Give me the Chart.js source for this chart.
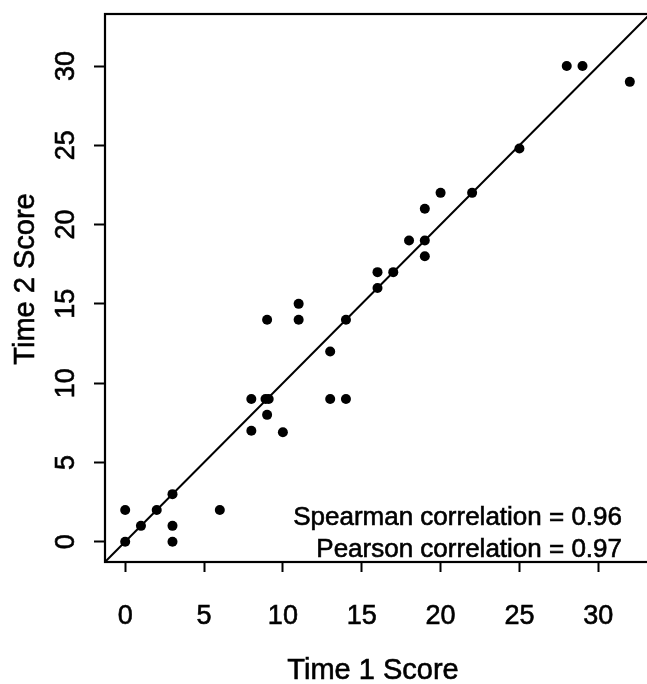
<!DOCTYPE html>
<html>
<head>
<meta charset="utf-8">
<script src="https://cdn.jsdelivr.net/npm/chart.js@4.4.1/dist/chart.umd.min.js"></script>
<style>
html,body{margin:0;padding:0;background:#fff;overflow:hidden;}
#wrap{width:647px;height:684px;overflow:hidden;position:relative;}
canvas{display:block;}
</style>
</head>
<body>
<div id="wrap"><canvas id="c" width="656" height="684"></canvas></div>
<script>
// Data
const time1 = [0, 0, 1, 2, 3, 3, 3, 6, 8, 8, 8.9, 9.1, 9, 9, 10, 11, 11, 13, 13, 14, 14, 16, 16, 17, 18, 19, 19, 19, 20, 22, 25, 28, 29, 32];
const time2 = [0, 2, 1, 2, 3, 1, 0, 2, 9, 7, 9, 9, 8, 14, 6.9, 15, 14, 12, 9, 9, 14, 17, 16, 17, 19, 21, 19, 18, 22, 22, 24.8, 30, 30, 29];
const xTicks = [0, 5, 10, 15, 20, 25, 30];
const yTicks = [0, 5, 10, 15, 20, 25, 30];
const axisMin = -1.28, axisMax = 33.28;
const xTitle = "Time 1 Score";
const yTitle = "Time 2 Score";
const notes = ["Spearman correlation = 0.96", "Pearson correlation = 0.97"];
const refLineSlope = 1, refLineIntercept = 0;

const FONT = "'Liberation Sans', Arial, Helvetica, sans-serif";
const points = time1.map((x, i) => ({x: x, y: time2[i]}));
const refLine = [axisMin, axisMax].map(x => ({x: x, y: refLineIntercept + refLineSlope * x}));

function drawText(ctx, t, x, y) {
  ctx.fillText(t, x, y);
  ctx.strokeText(t, x, y);
}

const textPlugin = {
  id: 'textPlugin',
  afterDraw(chart) {
    const ctx = chart.ctx;
    const a = chart.chartArea;
    const ys = chart.scales.y;
    ctx.save();
    // box
    ctx.strokeStyle = '#000';
    ctx.lineWidth = 2.2;
    ctx.strokeRect(a.left, a.top, a.right - a.left, a.bottom - a.top);
    ctx.fillStyle = '#000';
    ctx.lineWidth = 0.6;
    // y tick labels (rotated, parallel to axis)
    ctx.font = '27px ' + FONT;
    ctx.textAlign = 'center';
    ctx.textBaseline = 'alphabetic';
    yTicks.forEach(v => {
      const py = ys.getPixelForValue(v);
      ctx.save();
      ctx.translate(74, py);
      ctx.rotate(-Math.PI / 2);
      drawText(ctx, String(v), 0, 0);
      ctx.restore();
    });
    // axis titles
    ctx.font = '29px ' + FONT;
    drawText(ctx, xTitle, 373, 679);
    ctx.save();
    ctx.translate(34, 279);
    ctx.rotate(-Math.PI / 2);
    drawText(ctx, yTitle, 0, 0);
    ctx.restore();
    // annotations
    ctx.font = '26px ' + FONT;
    ctx.textAlign = 'right';
    drawText(ctx, notes[0], 622, 525);
    drawText(ctx, notes[1], 622, 557);
    ctx.restore();
  }
};

new Chart(document.getElementById('c'), {
  type: 'scatter',
  data: {
    datasets: [
      {
        type: 'line',
        data: refLine,
        borderColor: '#000',
        borderWidth: 2,
        pointRadius: 0,
        fill: false,
        tension: 0
      },
      {
        data: points,
        backgroundColor: '#000',
        borderWidth: 0,
        pointRadius: 5,
        pointHoverRadius: 5
      }
    ]
  },
  options: {
    responsive: false,
    animation: false,
    events: [],
    layout: {padding: {left: 0, top: 14, right: 6, bottom: 0}},
    plugins: {legend: {display: false}, tooltip: {enabled: false}},
    scales: {
      x: {
        type: 'linear',
        min: axisMin,
        max: axisMax,
        afterBuildTicks: s => { s.ticks = xTicks.map(v => ({value: v})); },
        afterFit: s => { s.height = 122; },
        grid: {drawOnChartArea: false, drawTicks: true, tickLength: 10, tickWidth: 2, color: '#000'},
        border: {display: true, color: '#000', width: 2},
        ticks: {color: '#000', font: {size: 27, family: FONT}, padding: 28, maxRotation: 0, autoSkip: false,
                textStrokeColor: '#000', textStrokeWidth: 0.6}
      },
      y: {
        type: 'linear',
        min: axisMin,
        max: axisMax,
        afterBuildTicks: s => { s.ticks = yTicks.map(v => ({value: v})); },
        afterFit: s => { s.width = 105; },
        grid: {drawOnChartArea: false, drawTicks: true, tickLength: 11, tickWidth: 2, color: '#000'},
        border: {display: true, color: '#000', width: 2},
        ticks: {display: false}
      }
    }
  },
  plugins: [textPlugin]
});
</script>
</body>
</html>
